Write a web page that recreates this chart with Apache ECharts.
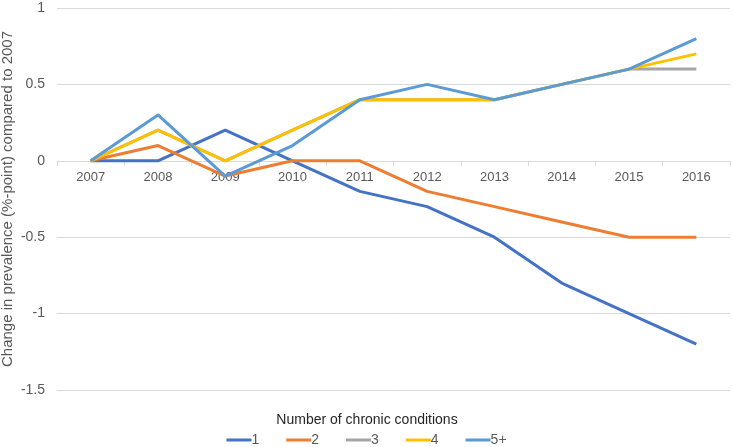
<!DOCTYPE html>
<html><head><meta charset="utf-8">
<script src="https://cdn.jsdelivr.net/npm/echarts@6/dist/echarts.min.js"></script>
<style>html,body{margin:0;padding:0;background:#fff}#c{width:733px;height:447px}</style>
</head><body><div id="c"></div>
<script>
const years = ['2007','2008','2009','2010','2011','2012','2013','2014','2015','2016'];
const s1 = [0, 0, 0.2, 0, -0.2, -0.3, -0.5, -0.8, -1.0, -1.2];
const s2 = [0, 0.1, -0.1, 0, 0, -0.2, -0.3, -0.4, -0.5, -0.5];
const s3 = [0, 0.2, 0, 0.2, 0.4, 0.4, 0.4, 0.5, 0.6, 0.6];
const s4 = [0, 0.2, 0, 0.2, 0.4, 0.4, 0.4, 0.5, 0.6, 0.7];
const s5 = [0, 0.3, -0.1, 0.1, 0.4, 0.5, 0.4, 0.5, 0.6, 0.8];
const names = ['1','2','3','4','5+'];
const colors = ['#4472C4','#ED7D31','#A5A5A5','#FFC000','#5B9BD5'];
const data = [s1,s2,s3,s4,s5];
const yMin = -1.5, yMax = 1;
const font = 'Liberation Sans, Arial, sans-serif';
const gridTop = 8, gridBottom = 57, H = 447;
const plotH = H - gridTop - gridBottom;
const zeroOffset = -plotH * (0 - yMin) / (yMax - yMin);
const chart = echarts.init(document.getElementById('c'), null, {renderer:'canvas'});
chart.setOption({
  animation:false,
  textStyle:{fontFamily:font},
  title:{text:'Number of chronic conditions', left:362, top:408, textAlign:'center',
    textStyle:{fontSize:14, fontWeight:'normal', color:'#262626', fontFamily:font}},
  legend:{bottom:-5, left:'center', itemWidth:25, itemHeight:3, itemGap:27, icon:'rect',
    textStyle:{fontSize:14, color:'#595959', fontFamily:font, padding:[0,0,0,-5]},
    data:names},
  grid:{left:57, right:3, top:gridTop, bottom:gridBottom, containLabel:false, outerBoundsMode:'none'},
  xAxis:{type:'category', data:years, boundaryGap:true, offset:zeroOffset,
    axisLine:{show:true, onZero:false, lineStyle:{color:'#D9D9D9', width:1}},
    axisTick:{show:true, length:5, lineStyle:{color:'#D9D9D9'}},
    axisLabel:{color:'#595959', fontSize:13, margin:10, fontFamily:font}},
  yAxis:{type:'value', min:yMin, max:yMax, interval:0.5,
    name:'Change in prevalence (%-point) compared to 2007', nameLocation:'middle', nameGap:42,
    nameMoveOverlap:false,
    nameTextStyle:{color:'#595959', fontSize:15, fontFamily:font},
    axisLine:{show:false}, axisTick:{show:false},
    axisLabel:{color:'#595959', fontSize:14, margin:12, fontFamily:font},
    splitLine:{lineStyle:{color:'#D9D9D9', width:1}}},
  series:data.map((d,i)=>({name:names[i], type:'line', data:d, symbol:'none',
    lineStyle:{color:colors[i], width:3}, itemStyle:{color:colors[i]}}))
});
</script></body></html>
